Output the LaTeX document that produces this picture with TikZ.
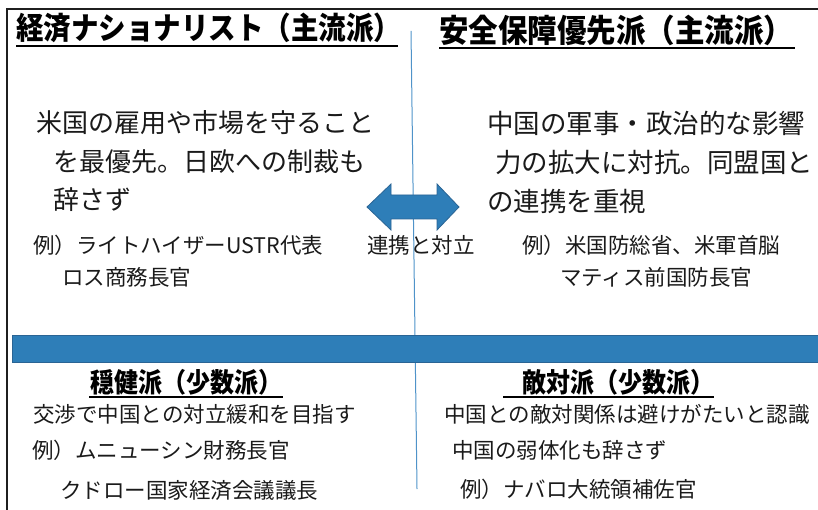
\documentclass[tikz,border=0pt]{standalone}
\usepackage{fontspec}
\newfontfamily\jp{Noto Sans CJK JP}
\definecolor{barblue}{HTML}{2E7EB8}
\definecolor{bardark}{HTML}{2A6494}
\definecolor{linblue}{HTML}{4F93C9}
\definecolor{txtc}{HTML}{1A1A1A}
\begin{document}
\begin{tikzpicture}[x=1pt,y=-1pt,
  txt/.style={anchor=west, inner sep=0pt, text=txtc, font=\jp\fontsize{26}{30}\selectfont},
  small/.style={anchor=west, inner sep=0pt, text=txtc, font=\jp\fontsize{21.5}{26}\selectfont},
  ttl/.style={anchor=west, inner sep=0pt, text=black, font=\jp\bfseries\fontsize{27.5}{32}\selectfont},
  sttl/.style={anchor=west, inner sep=0pt, text=black, font=\jp\bfseries\fontsize{24}{28}\selectfont},
  uline/.style={draw=black, line width=1.8pt},
  frame/.style={draw=black!88, line width=2.4pt}]
\useasboundingbox (0,0) rectangle (818,510);
% frame
\draw[frame] (7,510) -- (7,9) -- (818,9);
% vertical divider
\draw[linblue, line width=1pt] (411,31) -- (417,489);
% blue bar
\fill[barblue, draw=bardark, line width=1pt] (12,335) rectangle (818,362);
% double arrow
\filldraw[fill=barblue, draw=bardark, line width=0.8pt]
  (367,207) -- (391,184) -- (391,195) -- (437,195) -- (437,184) -- (459,207)
  -- (437,230) -- (437,219) -- (391,219) -- (391,230) -- cycle;
\node[small] (lbl) at (367,245) {連携と対立};
% titles
\node[ttl] (t1) at (16,28) {\scalebox{1}[1.12]{経済ナショナリスト（主流派）}};
\draw[uline] (16,46) -- (398,46);
\node[ttl, font=\jp\bfseries\fontsize{29.5}{34}\selectfont] (t2) at (439,30) {\scalebox{1}[1.08]{安全保障優先派（主流派）}};
\draw[uline] (439,48) -- (795,48);
% left upper body
\node[txt] (l1) at (36,123) {米国の雇用や市場を守ること};
\node[txt] (l2) at (53,162) {を最優先。日欧への制裁も};
\node[txt] (l3) at (53,200) {辞さず};
\node[small] (l4) at (33,245) {例）ライトハイザーUSTR代表};
\node[small] (l5) at (62,277) {ロス商務長官};
% right upper body
\node[txt, font=\jp\fontsize{26.5}{30}\selectfont] (r1) at (487,123) {中国の軍事・政治的な影響};
\node[txt, font=\jp\fontsize{26.5}{30}\selectfont] (r2) at (495,162) {力の拡大に対抗。同盟国と};
\node[txt, font=\jp\fontsize{26.5}{30}\selectfont] (r3) at (487,201) {の連携を重視};
\node[small] (r4) at (522,245) {例）米国防総省、米軍首脳};
\node[small] (r5) at (560,277) {マティス前国防長官};
% lower titles
\node[sttl] (b1) at (90,382) {\scalebox{1}[1.12]{穏健派（少数派）}};
\draw[uline, line width=1.6pt] (89,397) -- (283,397);
\node[sttl] (b2) at (522,382) {\scalebox{1}[1.12]{敵対派（少数派）}};
\draw[uline, line width=1.6pt] (503,397) -- (714,397);
% lower left
\node[small] (bl1) at (33,414) {交渉で中国との対立緩和を目指す};
\node[small] (bl2) at (32,450) {例）ムニューシン財務長官};
\node[small] (bl3) at (60,490) {クドロー国家経済会議議長};
% lower right
\node[small] (br1) at (444,414) {中国との敵対関係は避けがたいと認識};
\node[small] (br2) at (452,450) {中国の弱体化も辞さず};
\node[small] (br3) at (460,489) {例）ナバロ大統領補佐官};
\end{tikzpicture}
\end{document}
